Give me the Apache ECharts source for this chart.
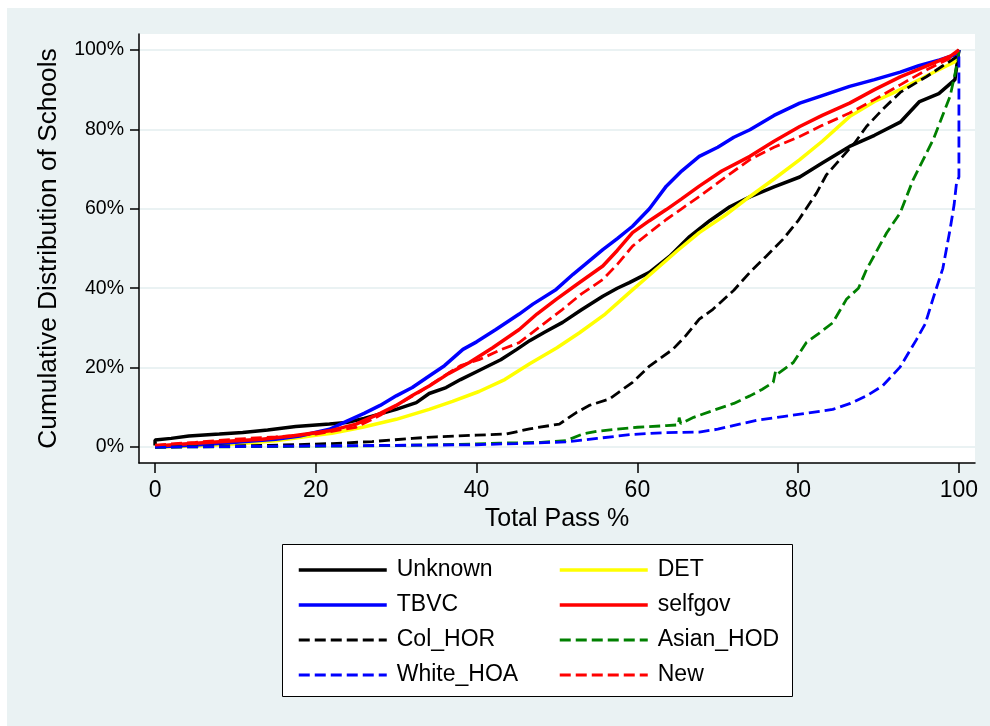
<!DOCTYPE html>
<html>
<head>
<meta charset="utf-8">
<script src="https://cdn.jsdelivr.net/npm/echarts@6/dist/echarts.min.js"></script>
<style>
html,body{margin:0;padding:0;background:#fff;}
#chart{width:990px;height:726px;}
</style>
</head>
<body>
<div id="chart"></div>
<script>
// ---- data ----
var xTicks = [0, 20, 40, 60, 80, 100];
var yTicks = [0, 20, 40, 60, 80, 100];
var xTitle = 'Total Pass %';
var yTitle = 'Cumulative Distribution of Schools';

var unknown = [[0,0.4],[0,1.8],[2,2.2],[4.2,2.8],[8,3.3],[10.9,3.7],[14,4.3],[17.5,5.2],[21.7,5.8],[23.8,6.2],[26,7.2],[27.9,8.3],[30,9.5],[32.5,11.2],[34.1,13.5],[36.2,15],[38,17],[40.3,19.3],[43,22],[45,24.6],[46.6,26.8],[48.5,29],[50.7,31.4],[53,34.5],[55.7,38],[57.5,40],[59,41.4],[61.5,44],[64,48],[66.5,53],[69,57],[71.5,60.5],[74,63],[77,65.5],[80.2,68],[83,71.5],[86.4,75.7],[89.5,78.5],[92.7,81.8],[95.1,87],[97.5,89],[99.5,92.5],[100,100]];
var det = [[0,0],[5,0.3],[10,0.8],[15,1.6],[20,3],[22,3.5],[25.8,5],[30,7],[34.1,9.5],[37,11.5],[40.3,14],[43.5,17],[46.6,21],[50,25],[52.8,28.8],[56,33.5],[59,38.9],[62.8,45.6],[65,49.5],[67.7,54],[71,58.5],[74,63.1],[77,67.5],[80.2,72.4],[83,77],[86.4,83.2],[89.5,87],[92.7,90],[96,93.5],[99.5,97],[100,100]];
var tbvc = [[0,0],[5,0.5],[10,1.2],[15,2],[18,2.8],[21.7,4.5],[23.8,6.5],[26,8.5],[28,10.5],[30,12.9],[32,15],[34.1,17.9],[36,20.5],[38.3,24.6],[40,26.5],[42.4,29.6],[45.3,33.5],[47,36],[49.9,39.7],[52,43.5],[53.5,46],[55.7,49.7],[57.5,52.5],[59.4,55.6],[61.5,60],[63.6,65.7],[65.5,69.5],[67.7,73.2],[70,75.5],[72,78],[74,79.9],[77,83.5],[80.2,86.6],[83,88.5],[86.4,90.8],[89.5,92.5],[92.7,94.4],[95,96],[97.6,97.5],[99.9,99],[100,100]];
var selfgov = [[0,0.3],[5,1],[10,1.6],[13.3,2],[17,2.8],[21.7,4.1],[25,5.8],[28,8.5],[30,10.5],[32,13],[34.1,15.4],[36.5,18.5],[39.1,21.3],[42,25],[45.3,29.6],[47.5,33.5],[49.9,37.2],[52.5,41],[55.7,45.6],[57.5,49.5],[59.4,54],[61.5,57],[63.6,59.8],[65.5,62.5],[67.7,65.7],[70.5,69.5],[74,73.2],[77,77],[80.2,80.7],[83,83.5],[86.4,86.6],[89.5,90],[92.7,93.2],[96,96],[99,98.5],[100,100]];
var colHor = [[0,0],[10,0.3],[17.5,0.6],[22,0.9],[27,1.4],[32,2.2],[35,2.6],[40,3],[43.7,3.3],[46.6,4.6],[50.3,5.8],[52.4,8.7],[54,10.5],[56.5,12.1],[59.4,16.3],[61.5,20.4],[64.4,24.6],[66,28],[67.7,32.2],[69.4,34.7],[72,39.5],[74,44],[76,48],[78.1,52.3],[80,57],[82.3,64],[83.5,68.5],[85.2,72.4],[87,76.5],[88.5,80.7],[90.5,85],[92.7,89.3],[94.5,91.5],[96,93.3],[98,96],[99.7,98.2],[100,100]];
var asianHod = [[0,0],[20,0.2],[30,0.4],[40,0.8],[42.8,1.0],[48,1.2],[51.1,1.6],[53.2,3.3],[55,4],[57.4,4.5],[60,5],[63.6,5.4],[65.1,5.6],[65.2,7.4],[65.4,5.9],[67,7.5],[69.8,9.5],[72,11],[74,12.9],[75.5,14.5],[76.9,16.3],[77.2,19.2],[77.5,18.5],[79.4,21.3],[81,26.3],[82.5,28.5],[84.3,31.3],[86,37.2],[87.5,40],[88.5,44.7],[91,53.9],[92.7,59],[94.3,67.3],[96.8,77.4],[98.9,88.3],[99.9,97.5],[100,100]];
var whiteHoa = [[0,0],[20,0.3],[40,0.6],[45,0.9],[51.1,1.3],[55,2.2],[59.4,3.2],[63,3.6],[67.7,3.8],[70,4.5],[72.7,5.8],[75,6.8],[78.1,7.7],[81,8.5],[84.3,9.5],[86.5,11],[88.5,12.9],[90.5,15.4],[92.7,20.2],[94.7,27],[95.8,31],[96.8,37.5],[98,45],[98.9,54.8],[99.4,61],[99.7,66.5],[100,68],[100,100]];
var newSch = [[0,0.5],[5,1.2],[10,2],[15,2.6],[20,3.3],[25,5],[28,8],[30,10.5],[33,14],[36,18],[38,20.5],[40.3,22],[43,24.5],[45.3,26.3],[48,30.5],[50.7,34.7],[53,38.5],[55.7,42.2],[57.5,46],[59.4,50.6],[61.5,54],[63.6,57.3],[65.5,60],[67.7,63.1],[71,68],[74,72.4],[77,75.5],[80.2,78.2],[83,81],[86.4,84.1],[89.5,87.5],[92.7,91.2],[96,95],[99,98],[100,100]];

var seriesNames = ['Unknown','DET','TBVC','selfgov','Col_HOR','Asian_HOD','White_HOA','New'];
var seriesData = [unknown, det, tbvc, selfgov, colHor, asianHod, whiteHoa, newSch];
var seriesColors = ['#000000','#FFFF00','#0000FF','#FF0000','#000000','#008000','#0000FF','#FF0000'];
var seriesDashed = [false,false,false,false,true,true,true,true];
var legendCol1 = ['Unknown','TBVC','Col_HOR','White_HOA'];
var legendCol2 = ['DET','selfgov','Asian_HOD','New'];

var FONT = 'Liberation Sans, Arial, sans-serif';

function lineW(i){ return seriesDashed[i] ? 2.8 : 3.5; }

var series = seriesNames.map(function(n,i){
  return {
    name: n, type: 'line', data: seriesData[i], symbol: 'none', showSymbol: false,
    animation: false, silent: true,
    lineStyle: { color: seriesColors[i], width: lineW(i), type: seriesDashed[i] ? [11,5] : 'solid' },
    itemStyle: { color: seriesColors[i] }
  };
});

function legendItems(names){
  return names.map(function(n){
    var i = seriesNames.indexOf(n);
    return { name: n, lineStyle: { width: lineW(i) } };
  });
}

var legendCommon = {
  orient:'vertical', top:552, itemWidth:88, itemHeight:14, itemGap:9,
  itemStyle:{ opacity:0, borderWidth:0 },
  textStyle:{ fontFamily:FONT, fontSize:23, color:'#000', lineHeight:26, padding:[0,0,0,5] },
  selectedMode:false
};

var chart = echarts.init(document.getElementById('chart'), null, {renderer:'canvas'});
chart.setOption({
  backgroundColor: '#ffffff',
  animation: false,
  graphic: [
    { type:'rect', left:7, top:8, shape:{width:983, height:718}, style:{fill:'#EAF2F3'}, z:-10, silent:true },
    { type:'rect', left:282, top:544, shape:{width:510, height:152}, style:{fill:'#ffffff', stroke:'#000', lineWidth:1}, z:-5, silent:true }
  ],
  grid: { left:139, right:15, top:34, bottom:263, show:true, backgroundColor:'#ffffff', borderWidth:0, containLabel:false },
  xAxis: {
    type:'value', min:-2, max:102,
    name: xTitle, nameLocation:'middle', nameGap:42,
    nameTextStyle:{ fontFamily:FONT, fontSize:25, color:'#000' },
    axisLine:{ show:true, onZero:false, lineStyle:{ color:'#000', width:1.5 } },
    axisTick:{ show:true, length:10, customValues:xTicks, lineStyle:{ color:'#000', width:1.5 } },
    axisLabel:{ show:true, customValues:xTicks, margin:16, fontFamily:FONT, fontSize:23, color:'#000' },
    splitLine:{ show:false }
  },
  yAxis: {
    type:'value', min:-4, max:104,
    name: yTitle, nameLocation:'middle', nameGap:77, nameRotate:90,
    nameTextStyle:{ fontFamily:FONT, fontSize:26.3, color:'#000' },
    axisLine:{ show:true, onZero:false, lineStyle:{ color:'#000', width:1.5 } },
    axisTick:{ show:true, length:9, customValues:yTicks, lineStyle:{ color:'#000', width:1.5 } },
    axisLabel:{ show:true, customValues:yTicks, margin:15, fontFamily:FONT, fontSize:19.5, color:'#000',
      formatter: function(v){ return v + '%'; } },
    splitLine:{ show:true, lineStyle:{ color:'#EAF2F3', width:2 } }
  },
  legend: [
    Object.assign({ data: legendItems(legendCol1), left:292 }, legendCommon),
    Object.assign({ data: legendItems(legendCol2), left:553 }, legendCommon)
  ],
  series: series
});
</script>
</body>
</html>
